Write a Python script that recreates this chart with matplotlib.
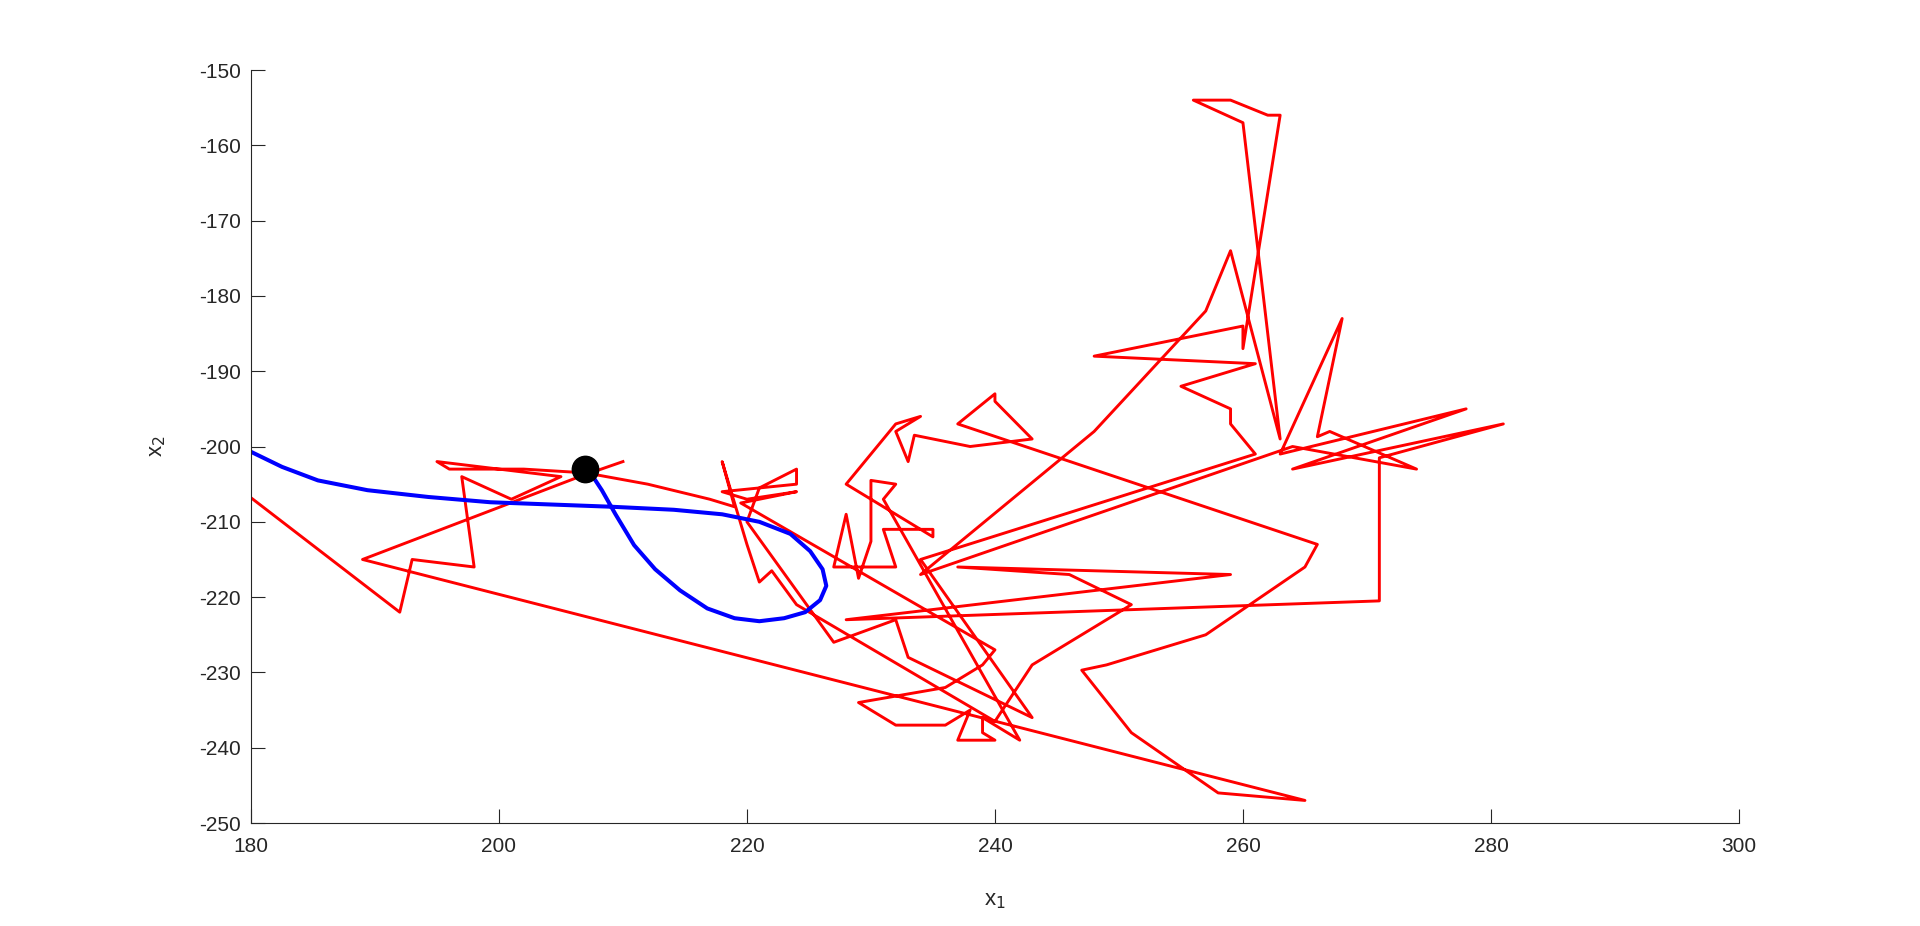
import matplotlib.pyplot as plt
import numpy as np

red_x = [177, 192, 193, 198, 197, 201, 205, 195, 196, 202, 207, 212, 217, 219, 218,
         220, 221, 222, 224,
         240, 243, 251, 246, 237, 259, 228, 271, 271, 281, 264, 278, 263, 268, 266, 267, 274, 264,
         234, 248, 257, 259, 263, 260, 256, 259, 262, 263, 260, 260, 248, 261, 255, 259, 259, 261,
         234, 243, 233, 232, 227, 220,
         221, 224, 224, 218, 220, 224, 219.5,
         240, 239, 236, 229, 232, 236, 238, 237, 240, 239, 239, 242,
         231, 232, 230, 230, 229, 228, 227, 232, 231, 235, 235, 228,
         232, 234, 232, 233, 233.5, 238, 243, 240, 240, 237,
         266, 265, 257, 249, 247, 251, 258, 265, 189, 206.5, 210]
red_y = [-203, -222, -215, -216, -204, -207, -204, -202, -203, -203, -203.5, -205, -207, -208, -202,
         -213, -218, -216.5, -221,
         -236.5, -229, -221, -217, -216, -217, -223, -220.5, -201.5, -197, -203, -195, -201, -183, -198.7, -198, -203, -200,
         -217, -198, -182, -174, -199, -157, -154, -154, -156, -156, -187, -184, -188, -189, -192, -195, -197, -201,
         -215, -236, -228, -223, -226, -210,
         -205.5, -203, -205, -206, -207, -206, -207.5,
         -227, -229, -232, -234, -237, -237, -235, -239, -239, -238, -236, -239,
         -207, -205, -204.5, -212.6, -217.5, -209, -216, -216, -211, -211, -212, -205,
         -197, -196, -198, -202, -198.5, -200, -199, -194, -193, -197,
         -213, -216, -225, -229, -229.7, -238, -246, -247, -215, -204, -202]

# blue estimate
blue_x = [175, 180, 182.5, 185.4, 189.4, 194.3, 199.3, 204.2, 209.1, 214.1, 218.0, 221.0, 223.5,
          225.1, 226.1, 226.4, 225.9, 224.7, 223.0, 221.0, 219.0, 216.8, 214.6, 212.6, 210.9,
          209.4, 208.3, 207.5, 206.9]
blue_y = [-198.6, -200.7, -202.7, -204.5, -205.8, -206.7, -207.4, -207.7, -208.0, -208.4, -209.0, -210.0, -211.6,
          -213.9, -216.3, -218.5, -220.4, -222.0, -222.8, -223.2, -222.8, -221.5, -219.1, -216.3, -213.1,
          -209.0, -205.8, -203.8, -203.0]

plt.rcParams['font.family'] = ['Liberation Sans', 'DejaVu Sans']
plt.rcParams['axes.unicode_minus'] = False

fig = plt.figure(figsize=(19.2, 9.26), dpi=100)
ax = fig.add_axes([0.1307, 0.1112, 0.775, 0.8132])

ax.plot(red_x, red_y, color='#ff0000', lw=2.1)
ax.plot(blue_x, blue_y, color='#0000ff', lw=2.9)
ax.plot(blue_x[-1], blue_y[-1], 'o', color='black', markersize=19)

ax.set_xlim(180, 300)
ax.set_ylim(-250, -150)
ax.set_xticks(np.arange(180, 301, 20))
ax.set_yticks(np.arange(-250, -149, 10))
ax.spines['top'].set_visible(False)
ax.spines['right'].set_visible(False)
for s in ['left', 'bottom']:
    ax.spines[s].set_color('#262626')
    ax.spines[s].set_linewidth(0.8)
ax.tick_params(direction='in', length=10, width=0.8, colors='#262626', labelsize=15)
ax.tick_params(axis='x', pad=10)
ax.tick_params(axis='y', pad=7)
ax.set_xlabel(r'x$_1$', fontsize=16, color='#262626')
ax.set_ylabel(r'x$_2$', fontsize=16, color='#262626')
ax.xaxis.set_label_coords(0.5, -0.089)
ax.yaxis.set_label_coords(-0.056, 0.5)

fig.savefig('out.png', dpi=100)
